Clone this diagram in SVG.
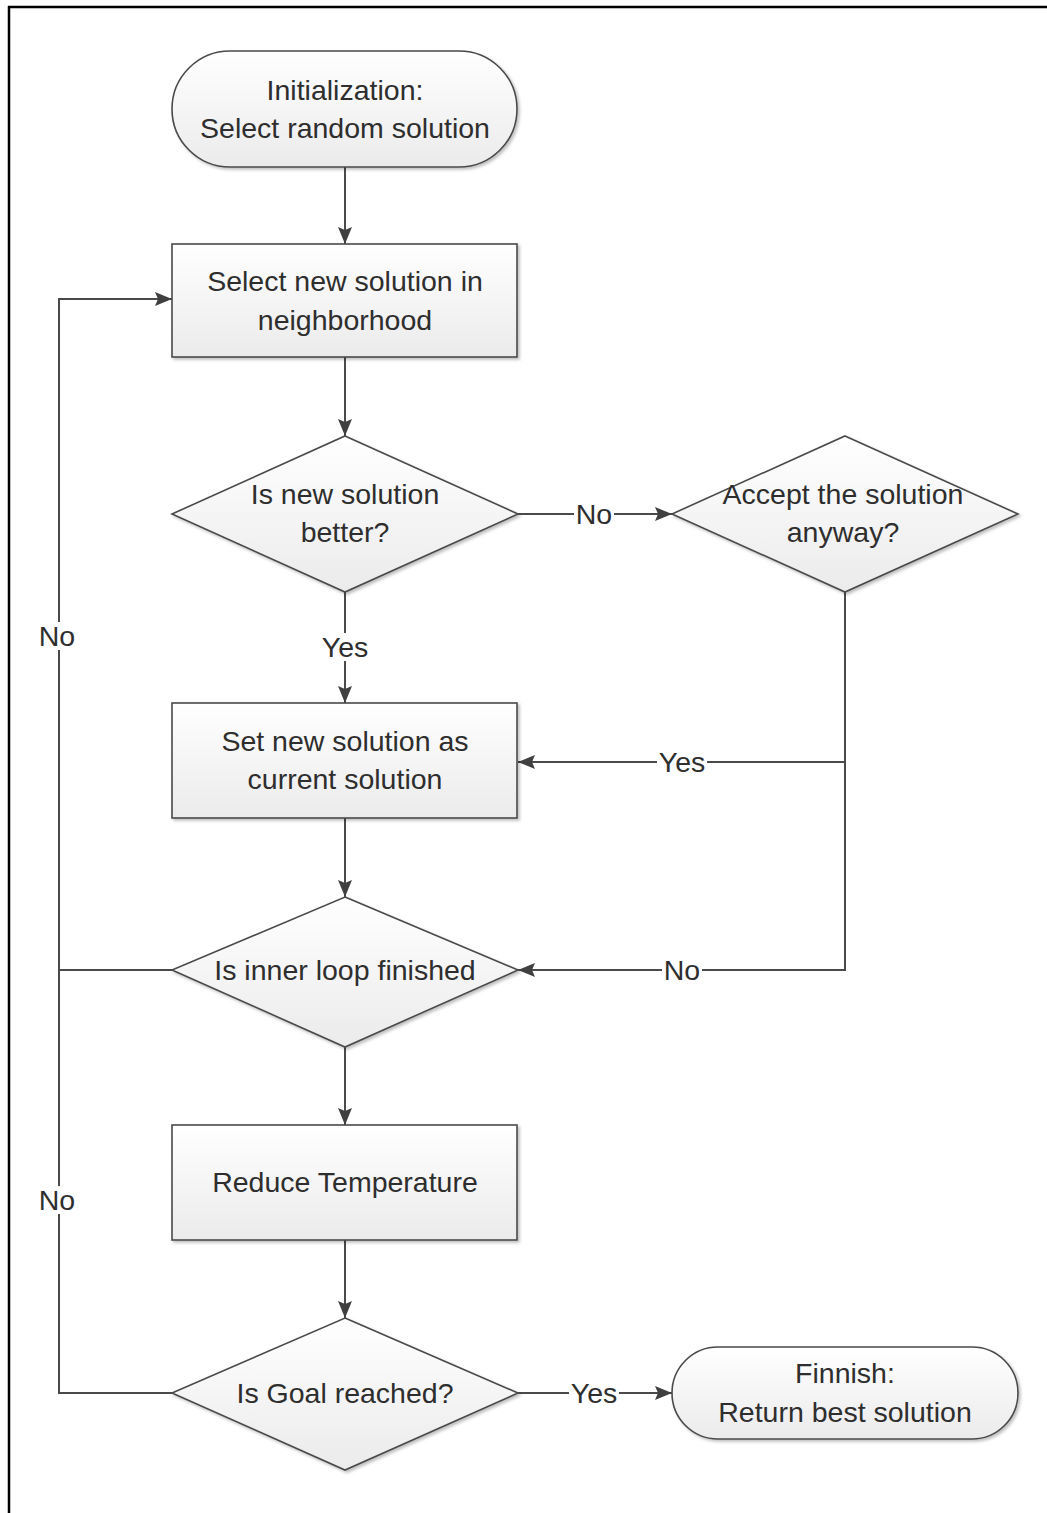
<svg xmlns="http://www.w3.org/2000/svg" width="1047" height="1513" viewBox="0 0 1047 1513">
<defs>
<linearGradient id="g" x1="0" y1="0" x2="0" y2="1">
<stop offset="0" stop-color="#ffffff"/>
<stop offset="1" stop-color="#ebebeb"/>
</linearGradient>
<filter id="sh" x="-5%" y="-5%" width="115%" height="120%">
<feDropShadow dx="2" dy="2" stdDeviation="1.5" flood-color="#000" flood-opacity="0.25"/>
</filter>
<marker id="ah" markerWidth="17" markerHeight="14" refX="17" refY="7" orient="auto" markerUnits="userSpaceOnUse">
<path d="M0,0 L17,7 L0,14 L3,7 Z" fill="#404040"/>
</marker>
</defs>
<style>
.n{fill:url(#g);stroke:#4a4a4a;stroke-width:1.6;filter:url(#sh)}
.t{font-family:"Liberation Sans",Arial,sans-serif;font-size:28.5px;fill:#2e2e2e;text-anchor:middle}
.c{fill:none;stroke:#4a4a4a;stroke-width:2}
.lb{fill:#fff}
</style>
<rect x="0" y="0" width="1047" height="1513" fill="#fff"/>
<g id="frame">
<line x1="8" y1="7" x2="1047" y2="7" stroke="#000" stroke-width="2.5"/>
<line x1="9" y1="6" x2="9" y2="1513" stroke="#000" stroke-width="2.5"/>
</g>
<g id="connectors">
<line class="c" x1="345" y1="167" x2="345" y2="244" marker-end="url(#ah)"/>
<line class="c" x1="345" y1="357" x2="345" y2="436" marker-end="url(#ah)"/>
<line class="c" x1="518" y1="514" x2="672" y2="514" marker-end="url(#ah)"/>
<line class="c" x1="345" y1="592" x2="345" y2="703" marker-end="url(#ah)"/>
<polyline class="c" points="845,592 845,762 518,762" marker-end="url(#ah)"/>
<polyline class="c" points="845,762 845,970 518,970" marker-end="url(#ah)"/>
<line class="c" x1="345" y1="818" x2="345" y2="897" marker-end="url(#ah)"/>
<polyline class="c" points="172,970 59,970 59,299 172,299" marker-end="url(#ah)"/>
<line class="c" x1="345" y1="1047" x2="345" y2="1125" marker-end="url(#ah)"/>
<line class="c" x1="345" y1="1240" x2="345" y2="1318" marker-end="url(#ah)"/>
<polyline class="c" points="172,1393 59,1393 59,970"/>
<line class="c" x1="518" y1="1393" x2="672" y2="1393" marker-end="url(#ah)"/>
<rect class="lb" x="574" y="500" width="40" height="28"/>
<text class="t" x="594" y="524">No</text>
<rect class="lb" x="320" y="633" width="50" height="28"/>
<text class="t" x="345" y="657">Yes</text>
<rect class="lb" x="657" y="748" width="50" height="28"/>
<text class="t" x="682" y="772">Yes</text>
<rect class="lb" x="662" y="956" width="40" height="28"/>
<text class="t" x="682" y="980">No</text>
<rect class="lb" x="37" y="622" width="40" height="28"/>
<text class="t" x="57" y="646">No</text>
<rect class="lb" x="37" y="1186" width="40" height="28"/>
<text class="t" x="57" y="1210">No</text>
<rect class="lb" x="569" y="1379" width="50" height="28"/>
<text class="t" x="594" y="1403">Yes</text>
</g>
<g id="start">
<rect class="n" x="172" y="51" width="345" height="116" rx="58" ry="58"/>
<text class="t" x="345" y="100">Initialization:</text>
<text class="t" x="345" y="138">Select random solution</text>
</g>
<g id="select">
<rect class="n" x="172" y="244" width="345" height="113"/>
<text class="t" x="345" y="291">Select new solution in</text>
<text class="t" x="345" y="330">neighborhood</text>
</g>
<g id="better">
<polygon class="n" points="345,436 518,514 345,592 172,514"/>
<text class="t" x="345" y="504">Is new solution</text>
<text class="t" x="345" y="542">better?</text>
</g>
<g id="accept">
<polygon class="n" points="845,436 1018,514 845,592 672,514"/>
<text class="t" x="843" y="504">Accept the solution</text>
<text class="t" x="843" y="542">anyway?</text>
</g>
<g id="setcurrent">
<rect class="n" x="172" y="703" width="345" height="115"/>
<text class="t" x="345" y="751">Set new solution as</text>
<text class="t" x="345" y="789">current solution</text>
</g>
<g id="inner">
<polygon class="n" points="345,897 518,970 345,1047 172,970"/>
<text class="t" x="345" y="980">Is inner loop finished</text>
</g>
<g id="reduce">
<rect class="n" x="172" y="1125" width="345" height="115"/>
<text class="t" x="345" y="1192">Reduce Temperature</text>
</g>
<g id="goal">
<polygon class="n" points="345,1318 518,1393 345,1470 172,1393"/>
<text class="t" x="345" y="1403">Is Goal reached?</text>
</g>
<g id="finish">
<rect class="n" x="672" y="1347" width="346" height="92" rx="46" ry="46"/>
<text class="t" x="845" y="1383">Finnish:</text>
<text class="t" x="845" y="1422">Return best solution</text>
</g>
</svg>
